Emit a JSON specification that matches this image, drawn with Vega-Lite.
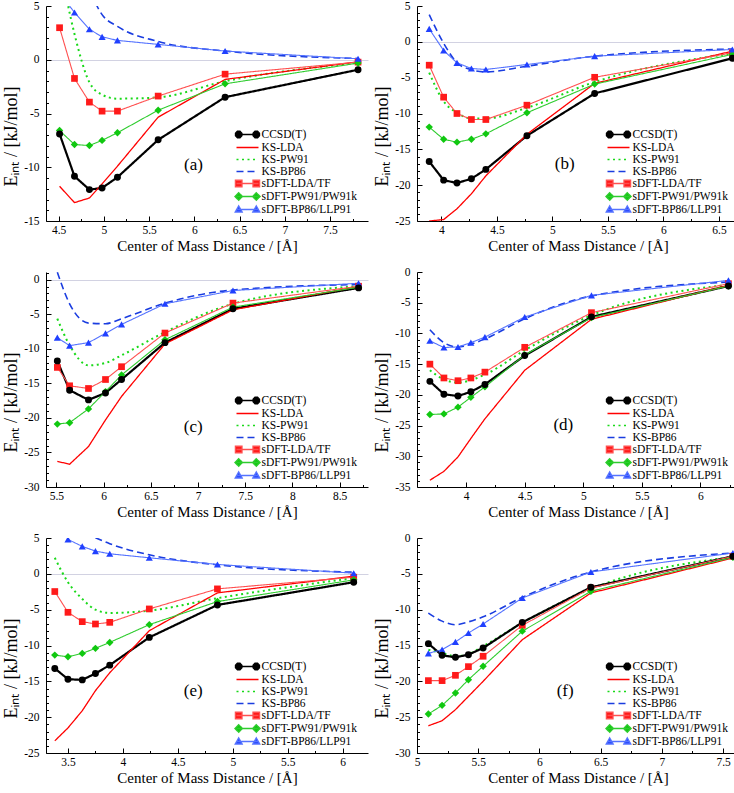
{
"$schema":"https://vega.github.io/schema/vega-lite/v6.json",
"padding":{"left":2,"top":0,"right":0,"bottom":0},
"background":"white",
"datasets":{
"labels":[
{"panel":"a","x":5.99,"y":-9.75,"label":"(a)"},
{"panel":"b","x":5.11,"y":-17.1,"label":"(b)"},
{"panel":"c","x":6.95,"y":-21.3,"label":"(c)"},
{"panel":"d","x":4.83,"y":-24.96,"label":"(d)"},
{"panel":"e","x":4.64,"y":-16.3,"label":"(e)"},
{"panel":"f","x":6.21,"y":-21.4,"label":"(f)"}
],
"pts":[
{"panel":"a","series":"CCSD(T)","x":4.51,"y":-6.9},{"panel":"a","series":"CCSD(T)","x":4.675,"y":-10.84},{"panel":"a","series":"CCSD(T)","x":4.84,"y":-12.08},{"panel":"a","series":"CCSD(T)","x":4.98,"y":-11.93},{"panel":"a","series":"CCSD(T)","x":5.15,"y":-10.93},{"panel":"a","series":"CCSD(T)","x":5.6,"y":-7.45},{"panel":"a","series":"CCSD(T)","x":6.34,"y":-3.48},{"panel":"a","series":"CCSD(T)","x":7.81,"y":-0.93},
{"panel":"a","series":"KS-LDA","x":4.51,"y":-11.77},{"panel":"a","series":"KS-LDA","x":4.675,"y":-13.29},{"panel":"a","series":"KS-LDA","x":4.84,"y":-12.86},{"panel":"a","series":"KS-LDA","x":4.98,"y":-11.55},{"panel":"a","series":"KS-LDA","x":5.15,"y":-9.9},{"panel":"a","series":"KS-LDA","x":5.6,"y":-5.34},{"panel":"a","series":"KS-LDA","x":6.34,"y":-1.83},{"panel":"a","series":"KS-LDA","x":7.81,"y":-0.19},
{"panel":"a","series":"KS-PW91","x":4.51,"y":9},{"panel":"a","series":"KS-PW91","x":4.675,"y":2.4},{"panel":"a","series":"KS-PW91","x":4.84,"y":-2.1},{"panel":"a","series":"KS-PW91","x":4.98,"y":-3.25},{"panel":"a","series":"KS-PW91","x":5.15,"y":-3.62},{"panel":"a","series":"KS-PW91","x":5.6,"y":-3.5},{"panel":"a","series":"KS-PW91","x":6.34,"y":-2.0},{"panel":"a","series":"KS-PW91","x":7.81,"y":-0.28},
{"panel":"a","series":"KS-BP86","x":4.51,"y":16},{"panel":"a","series":"KS-BP86","x":4.675,"y":10},{"panel":"a","series":"KS-BP86","x":4.84,"y":6.5},{"panel":"a","series":"KS-BP86","x":4.98,"y":4.2},{"panel":"a","series":"KS-BP86","x":5.15,"y":3.1},{"panel":"a","series":"KS-BP86","x":5.6,"y":1.7},{"panel":"a","series":"KS-BP86","x":6.34,"y":0.81},{"panel":"a","series":"KS-BP86","x":7.81,"y":0.12},
{"panel":"a","series":"sDFT-LDA/TF","x":4.51,"y":2.98},{"panel":"a","series":"sDFT-LDA/TF","x":4.675,"y":-1.74},{"panel":"a","series":"sDFT-LDA/TF","x":4.84,"y":-3.94},{"panel":"a","series":"sDFT-LDA/TF","x":4.98,"y":-4.78},{"panel":"a","series":"sDFT-LDA/TF","x":5.15,"y":-4.78},{"panel":"a","series":"sDFT-LDA/TF","x":5.6,"y":-3.38},{"panel":"a","series":"sDFT-LDA/TF","x":6.34,"y":-1.34},{"panel":"a","series":"sDFT-LDA/TF","x":7.81,"y":-0.22},
{"panel":"a","series":"sDFT-PW91/PW91k","x":4.51,"y":-6.58},{"panel":"a","series":"sDFT-PW91/PW91k","x":4.675,"y":-7.89},{"panel":"a","series":"sDFT-PW91/PW91k","x":4.84,"y":-7.98},{"panel":"a","series":"sDFT-PW91/PW91k","x":4.98,"y":-7.5},{"panel":"a","series":"sDFT-PW91/PW91k","x":5.15,"y":-6.79},{"panel":"a","series":"sDFT-PW91/PW91k","x":5.6,"y":-4.69},{"panel":"a","series":"sDFT-PW91/PW91k","x":6.34,"y":-2.24},{"panel":"a","series":"sDFT-PW91/PW91k","x":7.81,"y":-0.31},
{"panel":"a","series":"sDFT-BP86/LLP91","x":4.51,"y":6.2},{"panel":"a","series":"sDFT-BP86/LLP91","x":4.675,"y":4.4},{"panel":"a","series":"sDFT-BP86/LLP91","x":4.84,"y":2.84},{"panel":"a","series":"sDFT-BP86/LLP91","x":4.98,"y":2.13},{"panel":"a","series":"sDFT-BP86/LLP91","x":5.15,"y":1.8},{"panel":"a","series":"sDFT-BP86/LLP91","x":5.6,"y":1.43},{"panel":"a","series":"sDFT-BP86/LLP91","x":6.34,"y":0.81},{"panel":"a","series":"sDFT-BP86/LLP91","x":7.81,"y":0.09},

{"panel":"b","series":"CCSD(T)","x":3.89,"y":-16.7},{"panel":"b","series":"CCSD(T)","x":4.02,"y":-19.3},{"panel":"b","series":"CCSD(T)","x":4.14,"y":-19.7},{"panel":"b","series":"CCSD(T)","x":4.27,"y":-19.1},{"panel":"b","series":"CCSD(T)","x":4.4,"y":-17.8},{"panel":"b","series":"CCSD(T)","x":4.77,"y":-13.1},{"panel":"b","series":"CCSD(T)","x":5.38,"y":-7.2},{"panel":"b","series":"CCSD(T)","x":6.62,"y":-2.3},
{"panel":"b","series":"KS-LDA","x":3.89,"y":-25.0},{"panel":"b","series":"KS-LDA","x":4.02,"y":-24.8},{"panel":"b","series":"KS-LDA","x":4.14,"y":-23.3},{"panel":"b","series":"KS-LDA","x":4.27,"y":-21.2},{"panel":"b","series":"KS-LDA","x":4.4,"y":-18.7},{"panel":"b","series":"KS-LDA","x":4.77,"y":-12.9},{"panel":"b","series":"KS-LDA","x":5.38,"y":-5.8},{"panel":"b","series":"KS-LDA","x":6.62,"y":-1.3},
{"panel":"b","series":"KS-PW91","x":3.89,"y":-4.3},{"panel":"b","series":"KS-PW91","x":4.02,"y":-8.3},{"panel":"b","series":"KS-PW91","x":4.14,"y":-9.9},{"panel":"b","series":"KS-PW91","x":4.27,"y":-10.7},{"panel":"b","series":"KS-PW91","x":4.4,"y":-10.7},{"panel":"b","series":"KS-PW91","x":4.77,"y":-9.2},{"panel":"b","series":"KS-PW91","x":5.38,"y":-5.6},{"panel":"b","series":"KS-PW91","x":6.62,"y":-1.6},
{"panel":"b","series":"KS-BP86","x":3.89,"y":3.8},{"panel":"b","series":"KS-BP86","x":4.02,"y":-0.2},{"panel":"b","series":"KS-BP86","x":4.14,"y":-2.9},{"panel":"b","series":"KS-BP86","x":4.27,"y":-3.9},{"panel":"b","series":"KS-BP86","x":4.4,"y":-4.2},{"panel":"b","series":"KS-BP86","x":4.77,"y":-3.4},{"panel":"b","series":"KS-BP86","x":5.38,"y":-2.0},{"panel":"b","series":"KS-BP86","x":6.62,"y":-1.0},
{"panel":"b","series":"sDFT-LDA/TF","x":3.89,"y":-3.26},{"panel":"b","series":"sDFT-LDA/TF","x":4.02,"y":-7.72},{"panel":"b","series":"sDFT-LDA/TF","x":4.14,"y":-10.0},{"panel":"b","series":"sDFT-LDA/TF","x":4.27,"y":-10.84},{"panel":"b","series":"sDFT-LDA/TF","x":4.4,"y":-10.84},{"panel":"b","series":"sDFT-LDA/TF","x":4.77,"y":-8.84},{"panel":"b","series":"sDFT-LDA/TF","x":5.38,"y":-4.95},{"panel":"b","series":"sDFT-LDA/TF","x":6.62,"y":-1.53},
{"panel":"b","series":"sDFT-PW91/PW91k","x":3.89,"y":-11.9},{"panel":"b","series":"sDFT-PW91/PW91k","x":4.02,"y":-13.6},{"panel":"b","series":"sDFT-PW91/PW91k","x":4.14,"y":-14.0},{"panel":"b","series":"sDFT-PW91/PW91k","x":4.27,"y":-13.6},{"panel":"b","series":"sDFT-PW91/PW91k","x":4.4,"y":-12.84},{"panel":"b","series":"sDFT-PW91/PW91k","x":4.77,"y":-9.9},{"panel":"b","series":"sDFT-PW91/PW91k","x":5.38,"y":-5.9},{"panel":"b","series":"sDFT-PW91/PW91k","x":6.62,"y":-1.75},
{"panel":"b","series":"sDFT-BP86/LLP91","x":3.89,"y":1.81},{"panel":"b","series":"sDFT-BP86/LLP91","x":4.02,"y":-1.21},{"panel":"b","series":"sDFT-BP86/LLP91","x":4.14,"y":-2.93},{"panel":"b","series":"sDFT-BP86/LLP91","x":4.27,"y":-3.72},{"panel":"b","series":"sDFT-BP86/LLP91","x":4.4,"y":-3.86},{"panel":"b","series":"sDFT-BP86/LLP91","x":4.77,"y":-3.16},{"panel":"b","series":"sDFT-BP86/LLP91","x":5.38,"y":-2.0},{"panel":"b","series":"sDFT-BP86/LLP91","x":6.62,"y":-1.07},

{"panel":"c","series":"CCSD(T)","x":5.51,"y":-11.76},{"panel":"c","series":"CCSD(T)","x":5.64,"y":-16.0},{"panel":"c","series":"CCSD(T)","x":5.84,"y":-17.4},{"panel":"c","series":"CCSD(T)","x":6.02,"y":-16.4},{"panel":"c","series":"CCSD(T)","x":6.19,"y":-14.45},{"panel":"c","series":"CCSD(T)","x":6.65,"y":-9.12},{"panel":"c","series":"CCSD(T)","x":7.37,"y":-4.22},{"panel":"c","series":"CCSD(T)","x":8.7,"y":-1.2},
{"panel":"c","series":"KS-LDA","x":5.51,"y":-26.3},{"panel":"c","series":"KS-LDA","x":5.64,"y":-26.7},{"panel":"c","series":"KS-LDA","x":5.84,"y":-24.15},{"panel":"c","series":"KS-LDA","x":6.02,"y":-20.3},{"panel":"c","series":"KS-LDA","x":6.19,"y":-16.9},{"panel":"c","series":"KS-LDA","x":6.65,"y":-9.3},{"panel":"c","series":"KS-LDA","x":7.37,"y":-4.37},{"panel":"c","series":"KS-LDA","x":8.7,"y":-1.0},
{"panel":"c","series":"KS-PW91","x":5.51,"y":-5.66},{"panel":"c","series":"KS-PW91","x":5.64,"y":-9.5},{"panel":"c","series":"KS-PW91","x":5.84,"y":-12.4},{"panel":"c","series":"KS-PW91","x":6.02,"y":-12.05},{"panel":"c","series":"KS-PW91","x":6.19,"y":-10.95},{"panel":"c","series":"KS-PW91","x":6.65,"y":-7.6},{"panel":"c","series":"KS-PW91","x":7.37,"y":-3.5},{"panel":"c","series":"KS-PW91","x":8.7,"y":-0.96},
{"panel":"c","series":"KS-BP86","x":5.51,"y":1.06},{"panel":"c","series":"KS-BP86","x":5.64,"y":-3.5},{"panel":"c","series":"KS-BP86","x":5.84,"y":-6.29},{"panel":"c","series":"KS-BP86","x":6.02,"y":-6.38},{"panel":"c","series":"KS-BP86","x":6.19,"y":-5.66},{"panel":"c","series":"KS-BP86","x":6.65,"y":-3.41},{"panel":"c","series":"KS-BP86","x":7.37,"y":-1.5},{"panel":"c","series":"KS-BP86","x":8.7,"y":-0.7},
{"panel":"c","series":"sDFT-LDA/TF","x":5.51,"y":-12.7},{"panel":"c","series":"sDFT-LDA/TF","x":5.64,"y":-15.36},{"panel":"c","series":"sDFT-LDA/TF","x":5.84,"y":-15.75},{"panel":"c","series":"sDFT-LDA/TF","x":6.02,"y":-14.45},{"panel":"c","series":"sDFT-LDA/TF","x":6.19,"y":-12.6},{"panel":"c","series":"sDFT-LDA/TF","x":6.65,"y":-7.73},{"panel":"c","series":"sDFT-LDA/TF","x":7.37,"y":-3.4},{"panel":"c","series":"sDFT-LDA/TF","x":8.7,"y":-0.96},
{"panel":"c","series":"sDFT-PW91/PW91k","x":5.51,"y":-20.9},{"panel":"c","series":"sDFT-PW91/PW91k","x":5.64,"y":-20.7},{"panel":"c","series":"sDFT-PW91/PW91k","x":5.84,"y":-18.7},{"panel":"c","series":"sDFT-PW91/PW91k","x":6.02,"y":-16.2},{"panel":"c","series":"sDFT-PW91/PW91k","x":6.19,"y":-13.8},{"panel":"c","series":"sDFT-PW91/PW91k","x":6.65,"y":-8.7},{"panel":"c","series":"sDFT-PW91/PW91k","x":7.37,"y":-3.98},{"panel":"c","series":"sDFT-PW91/PW91k","x":8.7,"y":-1.1},
{"panel":"c","series":"sDFT-BP86/LLP91","x":5.51,"y":-8.4},{"panel":"c","series":"sDFT-BP86/LLP91","x":5.64,"y":-9.55},{"panel":"c","series":"sDFT-BP86/LLP91","x":5.84,"y":-9.12},{"panel":"c","series":"sDFT-BP86/LLP91","x":6.02,"y":-7.78},{"panel":"c","series":"sDFT-BP86/LLP91","x":6.19,"y":-6.48},{"panel":"c","series":"sDFT-BP86/LLP91","x":6.65,"y":-3.5},{"panel":"c","series":"sDFT-BP86/LLP91","x":7.37,"y":-1.58},{"panel":"c","series":"sDFT-BP86/LLP91","x":8.7,"y":-0.53},

{"panel":"d","series":"CCSD(T)","x":3.69,"y":-17.8},{"panel":"d","series":"CCSD(T)","x":3.81,"y":-19.9},{"panel":"d","series":"CCSD(T)","x":3.93,"y":-20.2},{"panel":"d","series":"CCSD(T)","x":4.04,"y":-19.5},{"panel":"d","series":"CCSD(T)","x":4.16,"y":-18.3},{"panel":"d","series":"CCSD(T)","x":4.5,"y":-13.6},{"panel":"d","series":"CCSD(T)","x":5.07,"y":-7.3},{"panel":"d","series":"CCSD(T)","x":6.24,"y":-2.28},
{"panel":"d","series":"KS-LDA","x":3.69,"y":-33.9},{"panel":"d","series":"KS-LDA","x":3.81,"y":-32.45},{"panel":"d","series":"KS-LDA","x":3.93,"y":-30.1},{"panel":"d","series":"KS-LDA","x":4.04,"y":-27.1},{"panel":"d","series":"KS-LDA","x":4.16,"y":-23.9},{"panel":"d","series":"KS-LDA","x":4.5,"y":-16.0},{"panel":"d","series":"KS-LDA","x":5.07,"y":-7.7},{"panel":"d","series":"KS-LDA","x":6.24,"y":-2.17},
{"panel":"d","series":"KS-PW91","x":3.69,"y":-16.0},{"panel":"d","series":"KS-PW91","x":3.81,"y":-17.5},{"panel":"d","series":"KS-PW91","x":3.93,"y":-18.0},{"panel":"d","series":"KS-PW91","x":4.04,"y":-17.6},{"panel":"d","series":"KS-PW91","x":4.16,"y":-16.7},{"panel":"d","series":"KS-PW91","x":4.5,"y":-12.75},{"panel":"d","series":"KS-PW91","x":5.07,"y":-7.05},{"panel":"d","series":"KS-PW91","x":6.24,"y":-2.06},
{"panel":"d","series":"KS-BP86","x":3.69,"y":-9.4},{"panel":"d","series":"KS-BP86","x":3.81,"y":-11.5},{"panel":"d","series":"KS-BP86","x":3.93,"y":-12.2},{"panel":"d","series":"KS-BP86","x":4.04,"y":-11.75},{"panel":"d","series":"KS-BP86","x":4.16,"y":-10.9},{"panel":"d","series":"KS-BP86","x":4.5,"y":-7.6},{"panel":"d","series":"KS-BP86","x":5.07,"y":-3.9},{"panel":"d","series":"KS-BP86","x":6.24,"y":-1.63},
{"panel":"d","series":"sDFT-LDA/TF","x":3.69,"y":-15.0},{"panel":"d","series":"sDFT-LDA/TF","x":3.81,"y":-17.25},{"panel":"d","series":"sDFT-LDA/TF","x":3.93,"y":-17.7},{"panel":"d","series":"sDFT-LDA/TF","x":4.04,"y":-17.25},{"panel":"d","series":"sDFT-LDA/TF","x":4.16,"y":-16.3},{"panel":"d","series":"sDFT-LDA/TF","x":4.5,"y":-12.26},{"panel":"d","series":"sDFT-LDA/TF","x":5.07,"y":-6.62},{"panel":"d","series":"sDFT-LDA/TF","x":6.24,"y":-1.9},
{"panel":"d","series":"sDFT-PW91/PW91k","x":3.69,"y":-23.2},{"panel":"d","series":"sDFT-PW91/PW91k","x":3.81,"y":-23.1},{"panel":"d","series":"sDFT-PW91/PW91k","x":3.93,"y":-22.0},{"panel":"d","series":"sDFT-PW91/PW91k","x":4.04,"y":-20.4},{"panel":"d","series":"sDFT-PW91/PW91k","x":4.16,"y":-18.7},{"panel":"d","series":"sDFT-PW91/PW91k","x":4.5,"y":-13.5},{"panel":"d","series":"sDFT-PW91/PW91k","x":5.07,"y":-7.43},{"panel":"d","series":"sDFT-PW91/PW91k","x":6.24,"y":-2.28},
{"panel":"d","series":"sDFT-BP86/LLP91","x":3.69,"y":-11.2},{"panel":"d","series":"sDFT-BP86/LLP91","x":3.81,"y":-12.3},{"panel":"d","series":"sDFT-BP86/LLP91","x":3.93,"y":-12.2},{"panel":"d","series":"sDFT-BP86/LLP91","x":4.04,"y":-11.5},{"panel":"d","series":"sDFT-BP86/LLP91","x":4.16,"y":-10.6},{"panel":"d","series":"sDFT-BP86/LLP91","x":4.5,"y":-7.33},{"panel":"d","series":"sDFT-BP86/LLP91","x":5.07,"y":-3.8},{"panel":"d","series":"sDFT-BP86/LLP91","x":6.24,"y":-1.36},

{"panel":"e","series":"CCSD(T)","x":3.38,"y":-13.2},{"panel":"e","series":"CCSD(T)","x":3.5,"y":-14.7},{"panel":"e","series":"CCSD(T)","x":3.63,"y":-14.8},{"panel":"e","series":"CCSD(T)","x":3.75,"y":-13.9},{"panel":"e","series":"CCSD(T)","x":3.88,"y":-12.74},{"panel":"e","series":"CCSD(T)","x":4.24,"y":-8.87},{"panel":"e","series":"CCSD(T)","x":4.86,"y":-4.34},{"panel":"e","series":"CCSD(T)","x":6.1,"y":-1.17},
{"panel":"e","series":"KS-LDA","x":3.38,"y":-23.3},{"panel":"e","series":"KS-LDA","x":3.5,"y":-21.5},{"panel":"e","series":"KS-LDA","x":3.63,"y":-19.1},{"panel":"e","series":"KS-LDA","x":3.75,"y":-16.3},{"panel":"e","series":"KS-LDA","x":3.88,"y":-13.8},{"panel":"e","series":"KS-LDA","x":4.24,"y":-7.93},{"panel":"e","series":"KS-LDA","x":4.86,"y":-2.66},{"panel":"e","series":"KS-LDA","x":6.1,"y":-0.33},
{"panel":"e","series":"KS-PW91","x":3.38,"y":2.24},{"panel":"e","series":"KS-PW91","x":3.5,"y":-1.17},{"panel":"e","series":"KS-PW91","x":3.63,"y":-3.5},{"panel":"e","series":"KS-PW91","x":3.75,"y":-5.0},{"panel":"e","series":"KS-PW91","x":3.88,"y":-5.46},{"panel":"e","series":"KS-PW91","x":4.24,"y":-5.13},{"panel":"e","series":"KS-PW91","x":4.86,"y":-3.4},{"panel":"e","series":"KS-PW91","x":6.1,"y":-0.6},
{"panel":"e","series":"KS-BP86","x":3.75,"y":5.04},{"panel":"e","series":"KS-BP86","x":3.88,"y":4.2},{"panel":"e","series":"KS-BP86","x":4.24,"y":2.66},{"panel":"e","series":"KS-BP86","x":4.86,"y":1.26},{"panel":"e","series":"KS-BP86","x":6.1,"y":0.23},
{"panel":"e","series":"sDFT-LDA/TF","x":3.38,"y":-2.47},{"panel":"e","series":"sDFT-LDA/TF","x":3.5,"y":-5.37},{"panel":"e","series":"sDFT-LDA/TF","x":3.63,"y":-6.67},{"panel":"e","series":"sDFT-LDA/TF","x":3.75,"y":-7.0},{"panel":"e","series":"sDFT-LDA/TF","x":3.88,"y":-6.77},{"panel":"e","series":"sDFT-LDA/TF","x":4.24,"y":-4.9},{"panel":"e","series":"sDFT-LDA/TF","x":4.86,"y":-2.1},{"panel":"e","series":"sDFT-LDA/TF","x":6.1,"y":-0.47},
{"panel":"e","series":"sDFT-PW91/PW91k","x":3.38,"y":-11.34},{"panel":"e","series":"sDFT-PW91/PW91k","x":3.5,"y":-11.57},{"panel":"e","series":"sDFT-PW91/PW91k","x":3.63,"y":-11.1},{"panel":"e","series":"sDFT-PW91/PW91k","x":3.75,"y":-10.4},{"panel":"e","series":"sDFT-PW91/PW91k","x":3.88,"y":-9.57},{"panel":"e","series":"sDFT-PW91/PW91k","x":4.24,"y":-7.09},{"panel":"e","series":"sDFT-PW91/PW91k","x":4.86,"y":-3.87},{"panel":"e","series":"sDFT-PW91/PW91k","x":6.1,"y":-0.84},
{"panel":"e","series":"sDFT-BP86/LLP91","x":3.5,"y":4.8},{"panel":"e","series":"sDFT-BP86/LLP91","x":3.63,"y":3.83},{"panel":"e","series":"sDFT-BP86/LLP91","x":3.75,"y":3.17},{"panel":"e","series":"sDFT-BP86/LLP91","x":3.88,"y":2.8},{"panel":"e","series":"sDFT-BP86/LLP91","x":4.24,"y":2.24},{"panel":"e","series":"sDFT-BP86/LLP91","x":4.86,"y":1.31},{"panel":"e","series":"sDFT-BP86/LLP91","x":6.1,"y":0.09},

{"panel":"f","series":"CCSD(T)","x":5.093,"y":-14.74},{"panel":"f","series":"CCSD(T)","x":5.205,"y":-16.37},{"panel":"f","series":"CCSD(T)","x":5.314,"y":-16.65},{"panel":"f","series":"CCSD(T)","x":5.42,"y":-16.28},{"panel":"f","series":"CCSD(T)","x":5.54,"y":-15.35},{"panel":"f","series":"CCSD(T)","x":5.86,"y":-11.77},{"panel":"f","series":"CCSD(T)","x":6.42,"y":-6.88},{"panel":"f","series":"CCSD(T)","x":7.58,"y":-2.56},
{"panel":"f","series":"KS-LDA","x":5.093,"y":-26.2},{"panel":"f","series":"KS-LDA","x":5.205,"y":-25.5},{"panel":"f","series":"KS-LDA","x":5.314,"y":-23.95},{"panel":"f","series":"KS-LDA","x":5.42,"y":-22.1},{"panel":"f","series":"KS-LDA","x":5.54,"y":-20.0},{"panel":"f","series":"KS-LDA","x":5.86,"y":-14.19},{"panel":"f","series":"KS-LDA","x":6.42,"y":-7.67},{"panel":"f","series":"KS-LDA","x":7.58,"y":-2.79},
{"panel":"f","series":"KS-PW91","x":5.093,"y":-15.6},{"panel":"f","series":"KS-PW91","x":5.205,"y":-16.05},{"panel":"f","series":"KS-PW91","x":5.314,"y":-16.5},{"panel":"f","series":"KS-PW91","x":5.42,"y":-16.2},{"panel":"f","series":"KS-PW91","x":5.54,"y":-15.1},{"panel":"f","series":"KS-PW91","x":5.86,"y":-11.86},{"panel":"f","series":"KS-PW91","x":6.42,"y":-7.1},{"panel":"f","series":"KS-PW91","x":7.58,"y":-2.65},
{"panel":"f","series":"KS-BP86","x":5.093,"y":-10.47},{"panel":"f","series":"KS-BP86","x":5.205,"y":-11.6},{"panel":"f","series":"KS-BP86","x":5.314,"y":-12.1},{"panel":"f","series":"KS-BP86","x":5.42,"y":-11.7},{"panel":"f","series":"KS-BP86","x":5.54,"y":-11.0},{"panel":"f","series":"KS-BP86","x":5.86,"y":-8.28},{"panel":"f","series":"KS-BP86","x":6.42,"y":-4.74},{"panel":"f","series":"KS-BP86","x":7.58,"y":-2.09},
{"panel":"f","series":"sDFT-LDA/TF","x":5.093,"y":-19.9},{"panel":"f","series":"sDFT-LDA/TF","x":5.205,"y":-19.9},{"panel":"f","series":"sDFT-LDA/TF","x":5.314,"y":-19.16},{"panel":"f","series":"sDFT-LDA/TF","x":5.42,"y":-17.95},{"panel":"f","series":"sDFT-LDA/TF","x":5.54,"y":-16.5},{"panel":"f","series":"sDFT-LDA/TF","x":5.86,"y":-12.19},{"panel":"f","series":"sDFT-LDA/TF","x":6.42,"y":-6.98},{"panel":"f","series":"sDFT-LDA/TF","x":7.58,"y":-2.56},
{"panel":"f","series":"sDFT-PW91/PW91k","x":5.093,"y":-24.56},{"panel":"f","series":"sDFT-PW91/PW91k","x":5.205,"y":-23.35},{"panel":"f","series":"sDFT-PW91/PW91k","x":5.314,"y":-21.63},{"panel":"f","series":"sDFT-PW91/PW91k","x":5.42,"y":-19.77},{"panel":"f","series":"sDFT-PW91/PW91k","x":5.54,"y":-17.9},{"panel":"f","series":"sDFT-PW91/PW91k","x":5.86,"y":-13.0},{"panel":"f","series":"sDFT-PW91/PW91k","x":6.42,"y":-7.44},{"panel":"f","series":"sDFT-PW91/PW91k","x":7.58,"y":-2.7},
{"panel":"f","series":"sDFT-BP86/LLP91","x":5.093,"y":-16.1},{"panel":"f","series":"sDFT-BP86/LLP91","x":5.205,"y":-15.58},{"panel":"f","series":"sDFT-BP86/LLP91","x":5.314,"y":-14.5},{"panel":"f","series":"sDFT-BP86/LLP91","x":5.42,"y":-13.26},{"panel":"f","series":"sDFT-BP86/LLP91","x":5.54,"y":-12.0},{"panel":"f","series":"sDFT-BP86/LLP91","x":5.86,"y":-8.37},{"panel":"f","series":"sDFT-BP86/LLP91","x":6.42,"y":-4.74},{"panel":"f","series":"sDFT-BP86/LLP91","x":7.58,"y":-2.09}
]
},
"columns":2,
"spacing":{"row":12,"column":5},
"resolve":{"scale":{"fill":"independent","stroke":"independent","shape":"independent","strokeDash":"independent"},"legend":{"fill":"independent","stroke":"independent","shape":"independent","strokeDash":"independent"}},
"concat":[
{"width":322,"height":215,"resolve":{"axis":{"x":"independent","y":"independent"}},
"layer":[
{"encoding":{"x":{"field":"x","type":"quantitative","title":"Center of Mass Distance / [Å]","scale":{"domain":[4.36,7.92],"nice":false,"zero":false},"axis":{"orient":"bottom","values":[4.5,5,5.5,6,6.5,7,7.5],"labelExpr":"''+datum.value"}},
"y":{"field":"y","type":"quantitative","title":"Eᵢₙₜ / [kJ/mol]","scale":{"domain":[-15,5],"nice":false,"zero":false},"axis":{"orient":"left","values":[-15,-10,-5,0,5],"labelExpr":"''+datum.value","grid":true,"gridOpacity":{"condition":{"test":"datum.value===0","value":1},"value":0}}}},
"layer":[
{"data":{"name":"pts"},"transform":[{"filter":"datum.panel==='a' && (datum.series==='KS-PW91' || datum.series==='KS-BP86')"}],"mark":{"type":"line","clip":true,"interpolate":"monotone"},"encoding":{"stroke":{"field":"series","type":"nominal","scale":{"domain":["CCSD(T)","KS-LDA","KS-PW91","KS-BP86","sDFT-LDA/TF","sDFT-PW91/PW91k","sDFT-BP86/LLP91"],"range":["#000000","#ff0000","#19d919","#1a3de0","#ff5050","#2ecc2e","#5573ff"]}},"strokeDash":{"field":"series","type":"nominal","scale":{"domain":["CCSD(T)","KS-LDA","KS-PW91","KS-BP86","sDFT-LDA/TF","sDFT-PW91/PW91k","sDFT-BP86/LLP91"],"range":[[1,0],[1,0],[2,3.5],[7,4],[1,0],[1,0],[1,0]]}},"strokeWidth":{"condition":{"test":"datum.series==='KS-PW91'","value":2},"value":1.6}}},
{"data":{"name":"pts"},"transform":[{"filter":"datum.panel==='a' && datum.series!=='KS-PW91' && datum.series!=='KS-BP86'"}],"mark":{"type":"line","clip":true},"encoding":{"stroke":{"field":"series","type":"nominal"},"strokeDash":{"field":"series","type":"nominal"},"strokeWidth":{"condition":[{"test":"datum.series==='CCSD(T)'","value":2.2},{"test":"datum.series==='KS-LDA'","value":1.3}],"value":1.1}}},
{"data":{"name":"pts"},"transform":[{"filter":"datum.panel==='a' && datum.series==='sDFT-LDA/TF'"}],"mark":{"type":"point","shape":"square","filled":true,"opacity":1,"color":"#ff1a1a","size":45,"clip":true}},
{"data":{"name":"pts"},"transform":[{"filter":"datum.panel==='a' && datum.series==='sDFT-PW91/PW91k'"}],"mark":{"type":"point","shape":"diamond","filled":true,"opacity":1,"color":"#10c810","size":55,"clip":true}},
{"data":{"name":"pts"},"transform":[{"filter":"datum.panel==='a' && datum.series==='sDFT-BP86/LLP91'"}],"mark":{"type":"point","shape":"triangle-up","filled":true,"opacity":1,"color":"#2040ff","size":50,"clip":true}},
{"data":{"name":"pts"},"transform":[{"filter":"datum.panel==='a' && datum.series==='CCSD(T)'"}],"mark":{"type":"point","shape":"circle","filled":true,"opacity":1,"color":"#000000","size":48,"clip":true}},
{"data":{"name":"labels"},"transform":[{"filter":"datum.panel==='a'"}],"mark":{"type":"text","font":"Liberation Serif","fontSize":17,"color":"#000000"},"encoding":{"text":{"field":"label"}}}
]},
{"data":{"name":"pts"},"transform":[{"filter":"false"}],"mark":{"type":"point","filled":true,"opacity":1},
"encoding":{
"x":{"field":"x","type":"quantitative","scale":{"domain":[4.36,7.92],"nice":false,"zero":false},"axis":{"orient":"bottom","values":[4.75,5.25,5.75,6.25,6.75,7.25,7.75],"labels":false,"domain":false,"title":null,"tickSize":-2.5}},
"y":{"field":"y","type":"quantitative","scale":{"domain":[-15,5],"nice":false,"zero":false},"axis":{"orient":"left","values":[-14,-13,-12,-11,-9,-8,-7,-6,-4,-3,-2,-1,1,2,3,4],"labels":false,"domain":false,"title":null,"tickSize":-2.5}},
"fill":{"field":"series","type":"nominal","scale":{"domain":["CCSD(T)","KS-LDA","KS-PW91","KS-BP86","sDFT-LDA/TF","sDFT-PW91/PW91k","sDFT-BP86/LLP91"],"range":["#000000","#ff0000","#19d919","#1a3de0","#ff1a1a","#10c810","#2040ff"]},"legend":{"title":null,"orient":"none","legendX":195,"legendY":122}},
"stroke":{"field":"series","type":"nominal","legend":{"title":null,"orient":"none","legendX":195,"legendY":122}},
"shape":{"field":"series","type":"nominal","scale":{"domain":["CCSD(T)","KS-LDA","KS-PW91","KS-BP86","sDFT-LDA/TF","sDFT-PW91/PW91k","sDFT-BP86/LLP91"],"range":["M-2,0L2,0M-1.012,0.243L-1.357,0.588L-1.843,0.588L-2.188,0.243L-2.188,-0.243L-1.843,-0.588L-1.357,-0.588L-1.012,-0.243ZM2.188,0.243L1.843,0.588L1.357,0.588L1.012,0.243L1.012,-0.243L1.357,-0.588L1.843,-0.588L2.188,-0.243Z","M-2,0L2,0","M-2,0L2,0","M-2,0L2,0","M-2,0L2,0M-2.2,-0.6L-1.0,-0.6L-1.0,0.6L-2.2,0.6ZM1.0,-0.6L2.2,-0.6L2.2,0.6L1.0,0.6Z","M-2,0L2,0M-1.6,-0.69L-0.91,0L-1.6,0.69L-2.29,0ZM1.6,-0.69L2.29,0L1.6,0.69L0.91,0Z","M-2,0L2,0M-1.6,-0.65L-0.97,0.45L-2.23,0.45ZM1.6,-0.65L2.23,0.45L0.97,0.45Z"]},"legend":{"title":null,"orient":"none","legendX":195,"legendY":122}},
"strokeDash":{"field":"series","type":"nominal","legend":{"title":null,"orient":"none","legendX":195,"legendY":122}}
}}
]},

{"width":322,"height":215,"resolve":{"axis":{"x":"independent","y":"independent"}},
"layer":[
{"encoding":{"x":{"field":"x","type":"quantitative","title":"Center of Mass Distance / [Å]","scale":{"domain":[3.78,6.68],"nice":false,"zero":false},"axis":{"orient":"bottom","values":[4,4.5,5,5.5,6,6.5],"labelExpr":"''+datum.value"}},
"y":{"field":"y","type":"quantitative","title":"Eᵢₙₜ / [kJ/mol]","scale":{"domain":[-25,5],"nice":false,"zero":false},"axis":{"orient":"left","values":[-25,-20,-15,-10,-5,0,5],"labelExpr":"''+datum.value","grid":true,"gridOpacity":{"condition":{"test":"datum.value===0","value":1},"value":0}}}},
"layer":[
{"data":{"name":"pts"},"transform":[{"filter":"datum.panel==='b' && (datum.series==='KS-PW91' || datum.series==='KS-BP86')"}],"mark":{"type":"line","clip":true,"interpolate":"monotone"},"encoding":{"stroke":{"field":"series","type":"nominal","scale":{"domain":["CCSD(T)","KS-LDA","KS-PW91","KS-BP86","sDFT-LDA/TF","sDFT-PW91/PW91k","sDFT-BP86/LLP91"],"range":["#000000","#ff0000","#19d919","#1a3de0","#ff5050","#2ecc2e","#5573ff"]}},"strokeDash":{"field":"series","type":"nominal","scale":{"domain":["CCSD(T)","KS-LDA","KS-PW91","KS-BP86","sDFT-LDA/TF","sDFT-PW91/PW91k","sDFT-BP86/LLP91"],"range":[[1,0],[1,0],[2,3.5],[7,4],[1,0],[1,0],[1,0]]}},"strokeWidth":{"condition":{"test":"datum.series==='KS-PW91'","value":2},"value":1.6}}},
{"data":{"name":"pts"},"transform":[{"filter":"datum.panel==='b' && datum.series!=='KS-PW91' && datum.series!=='KS-BP86'"}],"mark":{"type":"line","clip":true},"encoding":{"stroke":{"field":"series","type":"nominal"},"strokeDash":{"field":"series","type":"nominal"},"strokeWidth":{"condition":[{"test":"datum.series==='CCSD(T)'","value":2.2},{"test":"datum.series==='KS-LDA'","value":1.3}],"value":1.1}}},
{"data":{"name":"pts"},"transform":[{"filter":"datum.panel==='b' && datum.series==='sDFT-LDA/TF'"}],"mark":{"type":"point","shape":"square","filled":true,"opacity":1,"color":"#ff1a1a","size":45,"clip":true}},
{"data":{"name":"pts"},"transform":[{"filter":"datum.panel==='b' && datum.series==='sDFT-PW91/PW91k'"}],"mark":{"type":"point","shape":"diamond","filled":true,"opacity":1,"color":"#10c810","size":55,"clip":true}},
{"data":{"name":"pts"},"transform":[{"filter":"datum.panel==='b' && datum.series==='sDFT-BP86/LLP91'"}],"mark":{"type":"point","shape":"triangle-up","filled":true,"opacity":1,"color":"#2040ff","size":50,"clip":true}},
{"data":{"name":"pts"},"transform":[{"filter":"datum.panel==='b' && datum.series==='CCSD(T)'"}],"mark":{"type":"point","shape":"circle","filled":true,"opacity":1,"color":"#000000","size":48,"clip":true}},
{"data":{"name":"labels"},"transform":[{"filter":"datum.panel==='b'"}],"mark":{"type":"text","font":"Liberation Serif","fontSize":17,"color":"#000000"},"encoding":{"text":{"field":"label"}}}
]},
{"data":{"name":"pts"},"transform":[{"filter":"false"}],"mark":{"type":"point","filled":true,"opacity":1},
"encoding":{
"x":{"field":"x","type":"quantitative","scale":{"domain":[3.78,6.68],"nice":false,"zero":false},"axis":{"orient":"bottom","values":[4.25,4.75,5.25,5.75,6.25],"labels":false,"domain":false,"title":null,"tickSize":-2.5}},
"y":{"field":"y","type":"quantitative","scale":{"domain":[-25,5],"nice":false,"zero":false},"axis":{"orient":"left","values":[-24,-23,-22,-21,-19,-18,-17,-16,-14,-13,-12,-11,-9,-8,-7,-6,-4,-3,-2,-1,1,2,3,4],"labels":false,"domain":false,"title":null,"tickSize":-2.5}},
"fill":{"field":"series","type":"nominal","scale":{"domain":["CCSD(T)","KS-LDA","KS-PW91","KS-BP86","sDFT-LDA/TF","sDFT-PW91/PW91k","sDFT-BP86/LLP91"],"range":["#000000","#ff0000","#19d919","#1a3de0","#ff1a1a","#10c810","#2040ff"]},"legend":{"title":null,"orient":"none","legendX":195,"legendY":122}},
"stroke":{"field":"series","type":"nominal","legend":{"title":null,"orient":"none","legendX":195,"legendY":122}},
"shape":{"field":"series","type":"nominal","scale":{"domain":["CCSD(T)","KS-LDA","KS-PW91","KS-BP86","sDFT-LDA/TF","sDFT-PW91/PW91k","sDFT-BP86/LLP91"],"range":["M-2,0L2,0M-1.012,0.243L-1.357,0.588L-1.843,0.588L-2.188,0.243L-2.188,-0.243L-1.843,-0.588L-1.357,-0.588L-1.012,-0.243ZM2.188,0.243L1.843,0.588L1.357,0.588L1.012,0.243L1.012,-0.243L1.357,-0.588L1.843,-0.588L2.188,-0.243Z","M-2,0L2,0","M-2,0L2,0","M-2,0L2,0","M-2,0L2,0M-2.2,-0.6L-1.0,-0.6L-1.0,0.6L-2.2,0.6ZM1.0,-0.6L2.2,-0.6L2.2,0.6L1.0,0.6Z","M-2,0L2,0M-1.6,-0.69L-0.91,0L-1.6,0.69L-2.29,0ZM1.6,-0.69L2.29,0L1.6,0.69L0.91,0Z","M-2,0L2,0M-1.6,-0.65L-0.97,0.45L-2.23,0.45ZM1.6,-0.65L2.23,0.45L0.97,0.45Z"]},"legend":{"title":null,"orient":"none","legendX":195,"legendY":122}},
"strokeDash":{"field":"series","type":"nominal","legend":{"title":null,"orient":"none","legendX":195,"legendY":122}}
}}
]},

{"width":322,"height":215,"resolve":{"axis":{"x":"independent","y":"independent"}},
"layer":[
{"encoding":{"x":{"field":"x","type":"quantitative","title":"Center of Mass Distance / [Å]","scale":{"domain":[5.39,8.8],"nice":false,"zero":false},"axis":{"orient":"bottom","values":[5.5,6,6.5,7,7.5,8,8.5],"labelExpr":"''+datum.value"}},
"y":{"field":"y","type":"quantitative","title":"Eᵢₙₜ / [kJ/mol]","scale":{"domain":[-30,1.1],"nice":false,"zero":false},"axis":{"orient":"left","values":[-30,-25,-20,-15,-10,-5,0],"labelExpr":"''+datum.value","grid":true,"gridOpacity":{"condition":{"test":"datum.value===0","value":1},"value":0}}}},
"layer":[
{"data":{"name":"pts"},"transform":[{"filter":"datum.panel==='c' && (datum.series==='KS-PW91' || datum.series==='KS-BP86')"}],"mark":{"type":"line","clip":true,"interpolate":"monotone"},"encoding":{"stroke":{"field":"series","type":"nominal","scale":{"domain":["CCSD(T)","KS-LDA","KS-PW91","KS-BP86","sDFT-LDA/TF","sDFT-PW91/PW91k","sDFT-BP86/LLP91"],"range":["#000000","#ff0000","#19d919","#1a3de0","#ff5050","#2ecc2e","#5573ff"]}},"strokeDash":{"field":"series","type":"nominal","scale":{"domain":["CCSD(T)","KS-LDA","KS-PW91","KS-BP86","sDFT-LDA/TF","sDFT-PW91/PW91k","sDFT-BP86/LLP91"],"range":[[1,0],[1,0],[2,3.5],[7,4],[1,0],[1,0],[1,0]]}},"strokeWidth":{"condition":{"test":"datum.series==='KS-PW91'","value":2},"value":1.6}}},
{"data":{"name":"pts"},"transform":[{"filter":"datum.panel==='c' && datum.series!=='KS-PW91' && datum.series!=='KS-BP86'"}],"mark":{"type":"line","clip":true},"encoding":{"stroke":{"field":"series","type":"nominal"},"strokeDash":{"field":"series","type":"nominal"},"strokeWidth":{"condition":[{"test":"datum.series==='CCSD(T)'","value":2.2},{"test":"datum.series==='KS-LDA'","value":1.3}],"value":1.1}}},
{"data":{"name":"pts"},"transform":[{"filter":"datum.panel==='c' && datum.series==='sDFT-LDA/TF'"}],"mark":{"type":"point","shape":"square","filled":true,"opacity":1,"color":"#ff1a1a","size":45,"clip":true}},
{"data":{"name":"pts"},"transform":[{"filter":"datum.panel==='c' && datum.series==='sDFT-PW91/PW91k'"}],"mark":{"type":"point","shape":"diamond","filled":true,"opacity":1,"color":"#10c810","size":55,"clip":true}},
{"data":{"name":"pts"},"transform":[{"filter":"datum.panel==='c' && datum.series==='sDFT-BP86/LLP91'"}],"mark":{"type":"point","shape":"triangle-up","filled":true,"opacity":1,"color":"#2040ff","size":50,"clip":true}},
{"data":{"name":"pts"},"transform":[{"filter":"datum.panel==='c' && datum.series==='CCSD(T)'"}],"mark":{"type":"point","shape":"circle","filled":true,"opacity":1,"color":"#000000","size":48,"clip":true}},
{"data":{"name":"labels"},"transform":[{"filter":"datum.panel==='c'"}],"mark":{"type":"text","font":"Liberation Serif","fontSize":17,"color":"#000000"},"encoding":{"text":{"field":"label"}}}
]},
{"data":{"name":"pts"},"transform":[{"filter":"false"}],"mark":{"type":"point","filled":true,"opacity":1},
"encoding":{
"x":{"field":"x","type":"quantitative","scale":{"domain":[5.39,8.8],"nice":false,"zero":false},"axis":{"orient":"bottom","values":[5.75,6.25,6.75,7.25,7.75,8.25,8.75],"labels":false,"domain":false,"title":null,"tickSize":-2.5}},
"y":{"field":"y","type":"quantitative","scale":{"domain":[-30,1.1],"nice":false,"zero":false},"axis":{"orient":"left","values":[-29,-28,-27,-26,-24,-23,-22,-21,-19,-18,-17,-16,-14,-13,-12,-11,-9,-8,-7,-6,-4,-3,-2,-1,1],"labels":false,"domain":false,"title":null,"tickSize":-2.5}},
"fill":{"field":"series","type":"nominal","scale":{"domain":["CCSD(T)","KS-LDA","KS-PW91","KS-BP86","sDFT-LDA/TF","sDFT-PW91/PW91k","sDFT-BP86/LLP91"],"range":["#000000","#ff0000","#19d919","#1a3de0","#ff1a1a","#10c810","#2040ff"]},"legend":{"title":null,"orient":"none","legendX":195,"legendY":122}},
"stroke":{"field":"series","type":"nominal","legend":{"title":null,"orient":"none","legendX":195,"legendY":122}},
"shape":{"field":"series","type":"nominal","scale":{"domain":["CCSD(T)","KS-LDA","KS-PW91","KS-BP86","sDFT-LDA/TF","sDFT-PW91/PW91k","sDFT-BP86/LLP91"],"range":["M-2,0L2,0M-1.012,0.243L-1.357,0.588L-1.843,0.588L-2.188,0.243L-2.188,-0.243L-1.843,-0.588L-1.357,-0.588L-1.012,-0.243ZM2.188,0.243L1.843,0.588L1.357,0.588L1.012,0.243L1.012,-0.243L1.357,-0.588L1.843,-0.588L2.188,-0.243Z","M-2,0L2,0","M-2,0L2,0","M-2,0L2,0","M-2,0L2,0M-2.2,-0.6L-1.0,-0.6L-1.0,0.6L-2.2,0.6ZM1.0,-0.6L2.2,-0.6L2.2,0.6L1.0,0.6Z","M-2,0L2,0M-1.6,-0.69L-0.91,0L-1.6,0.69L-2.29,0ZM1.6,-0.69L2.29,0L1.6,0.69L0.91,0Z","M-2,0L2,0M-1.6,-0.65L-0.97,0.45L-2.23,0.45ZM1.6,-0.65L2.23,0.45L0.97,0.45Z"]},"legend":{"title":null,"orient":"none","legendX":195,"legendY":122}},
"strokeDash":{"field":"series","type":"nominal","legend":{"title":null,"orient":"none","legendX":195,"legendY":122}}
}}
]},

{"width":322,"height":215,"resolve":{"axis":{"x":"independent","y":"independent"}},
"layer":[
{"encoding":{"x":{"field":"x","type":"quantitative","title":"Center of Mass Distance / [Å]","scale":{"domain":[3.58,6.33],"nice":false,"zero":false},"axis":{"orient":"bottom","values":[4,4.5,5,5.5,6],"labelExpr":"''+datum.value"}},
"y":{"field":"y","type":"quantitative","title":"Eᵢₙₜ / [kJ/mol]","scale":{"domain":[-35,0],"nice":false,"zero":false},"axis":{"orient":"left","values":[-35,-30,-25,-20,-15,-10,-5,0],"labelExpr":"''+datum.value"}}},
"layer":[
{"data":{"name":"pts"},"transform":[{"filter":"datum.panel==='d' && (datum.series==='KS-PW91' || datum.series==='KS-BP86')"}],"mark":{"type":"line","clip":true,"interpolate":"monotone"},"encoding":{"stroke":{"field":"series","type":"nominal","scale":{"domain":["CCSD(T)","KS-LDA","KS-PW91","KS-BP86","sDFT-LDA/TF","sDFT-PW91/PW91k","sDFT-BP86/LLP91"],"range":["#000000","#ff0000","#19d919","#1a3de0","#ff5050","#2ecc2e","#5573ff"]}},"strokeDash":{"field":"series","type":"nominal","scale":{"domain":["CCSD(T)","KS-LDA","KS-PW91","KS-BP86","sDFT-LDA/TF","sDFT-PW91/PW91k","sDFT-BP86/LLP91"],"range":[[1,0],[1,0],[2,3.5],[7,4],[1,0],[1,0],[1,0]]}},"strokeWidth":{"condition":{"test":"datum.series==='KS-PW91'","value":2},"value":1.6}}},
{"data":{"name":"pts"},"transform":[{"filter":"datum.panel==='d' && datum.series!=='KS-PW91' && datum.series!=='KS-BP86'"}],"mark":{"type":"line","clip":true},"encoding":{"stroke":{"field":"series","type":"nominal"},"strokeDash":{"field":"series","type":"nominal"},"strokeWidth":{"condition":[{"test":"datum.series==='CCSD(T)'","value":2.2},{"test":"datum.series==='KS-LDA'","value":1.3}],"value":1.1}}},
{"data":{"name":"pts"},"transform":[{"filter":"datum.panel==='d' && datum.series==='sDFT-LDA/TF'"}],"mark":{"type":"point","shape":"square","filled":true,"opacity":1,"color":"#ff1a1a","size":45,"clip":true}},
{"data":{"name":"pts"},"transform":[{"filter":"datum.panel==='d' && datum.series==='sDFT-PW91/PW91k'"}],"mark":{"type":"point","shape":"diamond","filled":true,"opacity":1,"color":"#10c810","size":55,"clip":true}},
{"data":{"name":"pts"},"transform":[{"filter":"datum.panel==='d' && datum.series==='sDFT-BP86/LLP91'"}],"mark":{"type":"point","shape":"triangle-up","filled":true,"opacity":1,"color":"#2040ff","size":50,"clip":true}},
{"data":{"name":"pts"},"transform":[{"filter":"datum.panel==='d' && datum.series==='CCSD(T)'"}],"mark":{"type":"point","shape":"circle","filled":true,"opacity":1,"color":"#000000","size":48,"clip":true}},
{"data":{"name":"labels"},"transform":[{"filter":"datum.panel==='d'"}],"mark":{"type":"text","font":"Liberation Serif","fontSize":17,"color":"#000000"},"encoding":{"text":{"field":"label"}}}
]},
{"data":{"name":"pts"},"transform":[{"filter":"false"}],"mark":{"type":"point","filled":true,"opacity":1},
"encoding":{
"x":{"field":"x","type":"quantitative","scale":{"domain":[3.58,6.33],"nice":false,"zero":false},"axis":{"orient":"bottom","values":[3.75,4.25,4.75,5.25,5.75,6.25],"labels":false,"domain":false,"title":null,"tickSize":-2.5}},
"y":{"field":"y","type":"quantitative","scale":{"domain":[-35,0],"nice":false,"zero":false},"axis":{"orient":"left","values":[-34,-33,-32,-31,-29,-28,-27,-26,-24,-23,-22,-21,-19,-18,-17,-16,-14,-13,-12,-11,-9,-8,-7,-6,-4,-3,-2,-1],"labels":false,"domain":false,"title":null,"tickSize":-2.5}},
"fill":{"field":"series","type":"nominal","scale":{"domain":["CCSD(T)","KS-LDA","KS-PW91","KS-BP86","sDFT-LDA/TF","sDFT-PW91/PW91k","sDFT-BP86/LLP91"],"range":["#000000","#ff0000","#19d919","#1a3de0","#ff1a1a","#10c810","#2040ff"]},"legend":{"title":null,"orient":"none","legendX":195,"legendY":122}},
"stroke":{"field":"series","type":"nominal","legend":{"title":null,"orient":"none","legendX":195,"legendY":122}},
"shape":{"field":"series","type":"nominal","scale":{"domain":["CCSD(T)","KS-LDA","KS-PW91","KS-BP86","sDFT-LDA/TF","sDFT-PW91/PW91k","sDFT-BP86/LLP91"],"range":["M-2,0L2,0M-1.012,0.243L-1.357,0.588L-1.843,0.588L-2.188,0.243L-2.188,-0.243L-1.843,-0.588L-1.357,-0.588L-1.012,-0.243ZM2.188,0.243L1.843,0.588L1.357,0.588L1.012,0.243L1.012,-0.243L1.357,-0.588L1.843,-0.588L2.188,-0.243Z","M-2,0L2,0","M-2,0L2,0","M-2,0L2,0","M-2,0L2,0M-2.2,-0.6L-1.0,-0.6L-1.0,0.6L-2.2,0.6ZM1.0,-0.6L2.2,-0.6L2.2,0.6L1.0,0.6Z","M-2,0L2,0M-1.6,-0.69L-0.91,0L-1.6,0.69L-2.29,0ZM1.6,-0.69L2.29,0L1.6,0.69L0.91,0Z","M-2,0L2,0M-1.6,-0.65L-0.97,0.45L-2.23,0.45ZM1.6,-0.65L2.23,0.45L0.97,0.45Z"]},"legend":{"title":null,"orient":"none","legendX":195,"legendY":122}},
"strokeDash":{"field":"series","type":"nominal","legend":{"title":null,"orient":"none","legendX":195,"legendY":122}}
}}
]},

{"width":322,"height":215,"resolve":{"axis":{"x":"independent","y":"independent"}},
"layer":[
{"encoding":{"x":{"field":"x","type":"quantitative","title":"Center of Mass Distance / [Å]","scale":{"domain":[3.3,6.23],"nice":false,"zero":false},"axis":{"orient":"bottom","values":[3.5,4,4.5,5,5.5,6],"labelExpr":"''+datum.value"}},
"y":{"field":"y","type":"quantitative","title":"Eᵢₙₜ / [kJ/mol]","scale":{"domain":[-25,5],"nice":false,"zero":false},"axis":{"orient":"left","values":[-25,-20,-15,-10,-5,0,5],"labelExpr":"''+datum.value","grid":true,"gridOpacity":{"condition":{"test":"datum.value===0","value":1},"value":0}}}},
"layer":[
{"data":{"name":"pts"},"transform":[{"filter":"datum.panel==='e' && (datum.series==='KS-PW91' || datum.series==='KS-BP86')"}],"mark":{"type":"line","clip":true,"interpolate":"monotone"},"encoding":{"stroke":{"field":"series","type":"nominal","scale":{"domain":["CCSD(T)","KS-LDA","KS-PW91","KS-BP86","sDFT-LDA/TF","sDFT-PW91/PW91k","sDFT-BP86/LLP91"],"range":["#000000","#ff0000","#19d919","#1a3de0","#ff5050","#2ecc2e","#5573ff"]}},"strokeDash":{"field":"series","type":"nominal","scale":{"domain":["CCSD(T)","KS-LDA","KS-PW91","KS-BP86","sDFT-LDA/TF","sDFT-PW91/PW91k","sDFT-BP86/LLP91"],"range":[[1,0],[1,0],[2,3.5],[7,4],[1,0],[1,0],[1,0]]}},"strokeWidth":{"condition":{"test":"datum.series==='KS-PW91'","value":2},"value":1.6}}},
{"data":{"name":"pts"},"transform":[{"filter":"datum.panel==='e' && datum.series!=='KS-PW91' && datum.series!=='KS-BP86'"}],"mark":{"type":"line","clip":true},"encoding":{"stroke":{"field":"series","type":"nominal"},"strokeDash":{"field":"series","type":"nominal"},"strokeWidth":{"condition":[{"test":"datum.series==='CCSD(T)'","value":2.2},{"test":"datum.series==='KS-LDA'","value":1.3}],"value":1.1}}},
{"data":{"name":"pts"},"transform":[{"filter":"datum.panel==='e' && datum.series==='sDFT-LDA/TF'"}],"mark":{"type":"point","shape":"square","filled":true,"opacity":1,"color":"#ff1a1a","size":45,"clip":true}},
{"data":{"name":"pts"},"transform":[{"filter":"datum.panel==='e' && datum.series==='sDFT-PW91/PW91k'"}],"mark":{"type":"point","shape":"diamond","filled":true,"opacity":1,"color":"#10c810","size":55,"clip":true}},
{"data":{"name":"pts"},"transform":[{"filter":"datum.panel==='e' && datum.series==='sDFT-BP86/LLP91'"}],"mark":{"type":"point","shape":"triangle-up","filled":true,"opacity":1,"color":"#2040ff","size":50,"clip":true}},
{"data":{"name":"pts"},"transform":[{"filter":"datum.panel==='e' && datum.series==='CCSD(T)'"}],"mark":{"type":"point","shape":"circle","filled":true,"opacity":1,"color":"#000000","size":48,"clip":true}},
{"data":{"name":"labels"},"transform":[{"filter":"datum.panel==='e'"}],"mark":{"type":"text","font":"Liberation Serif","fontSize":17,"color":"#000000"},"encoding":{"text":{"field":"label"}}}
]},
{"data":{"name":"pts"},"transform":[{"filter":"false"}],"mark":{"type":"point","filled":true,"opacity":1},
"encoding":{
"x":{"field":"x","type":"quantitative","scale":{"domain":[3.3,6.23],"nice":false,"zero":false},"axis":{"orient":"bottom","values":[3.75,4.25,4.75,5.25,5.75],"labels":false,"domain":false,"title":null,"tickSize":-2.5}},
"y":{"field":"y","type":"quantitative","scale":{"domain":[-25,5],"nice":false,"zero":false},"axis":{"orient":"left","values":[-24,-23,-22,-21,-19,-18,-17,-16,-14,-13,-12,-11,-9,-8,-7,-6,-4,-3,-2,-1,1,2,3,4],"labels":false,"domain":false,"title":null,"tickSize":-2.5}},
"fill":{"field":"series","type":"nominal","scale":{"domain":["CCSD(T)","KS-LDA","KS-PW91","KS-BP86","sDFT-LDA/TF","sDFT-PW91/PW91k","sDFT-BP86/LLP91"],"range":["#000000","#ff0000","#19d919","#1a3de0","#ff1a1a","#10c810","#2040ff"]},"legend":{"title":null,"orient":"none","legendX":195,"legendY":122}},
"stroke":{"field":"series","type":"nominal","legend":{"title":null,"orient":"none","legendX":195,"legendY":122}},
"shape":{"field":"series","type":"nominal","scale":{"domain":["CCSD(T)","KS-LDA","KS-PW91","KS-BP86","sDFT-LDA/TF","sDFT-PW91/PW91k","sDFT-BP86/LLP91"],"range":["M-2,0L2,0M-1.012,0.243L-1.357,0.588L-1.843,0.588L-2.188,0.243L-2.188,-0.243L-1.843,-0.588L-1.357,-0.588L-1.012,-0.243ZM2.188,0.243L1.843,0.588L1.357,0.588L1.012,0.243L1.012,-0.243L1.357,-0.588L1.843,-0.588L2.188,-0.243Z","M-2,0L2,0","M-2,0L2,0","M-2,0L2,0","M-2,0L2,0M-2.2,-0.6L-1.0,-0.6L-1.0,0.6L-2.2,0.6ZM1.0,-0.6L2.2,-0.6L2.2,0.6L1.0,0.6Z","M-2,0L2,0M-1.6,-0.69L-0.91,0L-1.6,0.69L-2.29,0ZM1.6,-0.69L2.29,0L1.6,0.69L0.91,0Z","M-2,0L2,0M-1.6,-0.65L-0.97,0.45L-2.23,0.45ZM1.6,-0.65L2.23,0.45L0.97,0.45Z"]},"legend":{"title":null,"orient":"none","legendX":195,"legendY":122}},
"strokeDash":{"field":"series","type":"nominal","legend":{"title":null,"orient":"none","legendX":195,"legendY":122}}
}}
]},

{"width":322,"height":215,"resolve":{"axis":{"x":"independent","y":"independent"}},
"layer":[
{"encoding":{"x":{"field":"x","type":"quantitative","title":"Center of Mass Distance / [Å]","scale":{"domain":[5.0,7.63],"nice":false,"zero":false},"axis":{"orient":"bottom","values":[5,5.5,6,6.5,7,7.5],"labelExpr":"''+datum.value"}},
"y":{"field":"y","type":"quantitative","title":"Eᵢₙₜ / [kJ/mol]","scale":{"domain":[-30,0],"nice":false,"zero":false},"axis":{"orient":"left","values":[-30,-25,-20,-15,-10,-5,0],"labelExpr":"''+datum.value"}}},
"layer":[
{"data":{"name":"pts"},"transform":[{"filter":"datum.panel==='f' && (datum.series==='KS-PW91' || datum.series==='KS-BP86')"}],"mark":{"type":"line","clip":true,"interpolate":"monotone"},"encoding":{"stroke":{"field":"series","type":"nominal","scale":{"domain":["CCSD(T)","KS-LDA","KS-PW91","KS-BP86","sDFT-LDA/TF","sDFT-PW91/PW91k","sDFT-BP86/LLP91"],"range":["#000000","#ff0000","#19d919","#1a3de0","#ff5050","#2ecc2e","#5573ff"]}},"strokeDash":{"field":"series","type":"nominal","scale":{"domain":["CCSD(T)","KS-LDA","KS-PW91","KS-BP86","sDFT-LDA/TF","sDFT-PW91/PW91k","sDFT-BP86/LLP91"],"range":[[1,0],[1,0],[2,3.5],[7,4],[1,0],[1,0],[1,0]]}},"strokeWidth":{"condition":{"test":"datum.series==='KS-PW91'","value":2},"value":1.6}}},
{"data":{"name":"pts"},"transform":[{"filter":"datum.panel==='f' && datum.series!=='KS-PW91' && datum.series!=='KS-BP86'"}],"mark":{"type":"line","clip":true},"encoding":{"stroke":{"field":"series","type":"nominal"},"strokeDash":{"field":"series","type":"nominal"},"strokeWidth":{"condition":[{"test":"datum.series==='CCSD(T)'","value":2.2},{"test":"datum.series==='KS-LDA'","value":1.3}],"value":1.1}}},
{"data":{"name":"pts"},"transform":[{"filter":"datum.panel==='f' && datum.series==='sDFT-LDA/TF'"}],"mark":{"type":"point","shape":"square","filled":true,"opacity":1,"color":"#ff1a1a","size":45,"clip":true}},
{"data":{"name":"pts"},"transform":[{"filter":"datum.panel==='f' && datum.series==='sDFT-PW91/PW91k'"}],"mark":{"type":"point","shape":"diamond","filled":true,"opacity":1,"color":"#10c810","size":55,"clip":true}},
{"data":{"name":"pts"},"transform":[{"filter":"datum.panel==='f' && datum.series==='sDFT-BP86/LLP91'"}],"mark":{"type":"point","shape":"triangle-up","filled":true,"opacity":1,"color":"#2040ff","size":50,"clip":true}},
{"data":{"name":"pts"},"transform":[{"filter":"datum.panel==='f' && datum.series==='CCSD(T)'"}],"mark":{"type":"point","shape":"circle","filled":true,"opacity":1,"color":"#000000","size":48,"clip":true}},
{"data":{"name":"labels"},"transform":[{"filter":"datum.panel==='f'"}],"mark":{"type":"text","font":"Liberation Serif","fontSize":17,"color":"#000000"},"encoding":{"text":{"field":"label"}}}
]},
{"data":{"name":"pts"},"transform":[{"filter":"false"}],"mark":{"type":"point","filled":true,"opacity":1},
"encoding":{
"x":{"field":"x","type":"quantitative","scale":{"domain":[5.0,7.63],"nice":false,"zero":false},"axis":{"orient":"bottom","values":[5.25,5.75,6.25,6.75,7.25],"labels":false,"domain":false,"title":null,"tickSize":-2.5}},
"y":{"field":"y","type":"quantitative","scale":{"domain":[-30,0],"nice":false,"zero":false},"axis":{"orient":"left","values":[-29,-28,-27,-26,-24,-23,-22,-21,-19,-18,-17,-16,-14,-13,-12,-11,-9,-8,-7,-6,-4,-3,-2,-1],"labels":false,"domain":false,"title":null,"tickSize":-2.5}},
"fill":{"field":"series","type":"nominal","scale":{"domain":["CCSD(T)","KS-LDA","KS-PW91","KS-BP86","sDFT-LDA/TF","sDFT-PW91/PW91k","sDFT-BP86/LLP91"],"range":["#000000","#ff0000","#19d919","#1a3de0","#ff1a1a","#10c810","#2040ff"]},"legend":{"title":null,"orient":"none","legendX":195,"legendY":122}},
"stroke":{"field":"series","type":"nominal","legend":{"title":null,"orient":"none","legendX":195,"legendY":122}},
"shape":{"field":"series","type":"nominal","scale":{"domain":["CCSD(T)","KS-LDA","KS-PW91","KS-BP86","sDFT-LDA/TF","sDFT-PW91/PW91k","sDFT-BP86/LLP91"],"range":["M-2,0L2,0M-1.012,0.243L-1.357,0.588L-1.843,0.588L-2.188,0.243L-2.188,-0.243L-1.843,-0.588L-1.357,-0.588L-1.012,-0.243ZM2.188,0.243L1.843,0.588L1.357,0.588L1.012,0.243L1.012,-0.243L1.357,-0.588L1.843,-0.588L2.188,-0.243Z","M-2,0L2,0","M-2,0L2,0","M-2,0L2,0","M-2,0L2,0M-2.2,-0.6L-1.0,-0.6L-1.0,0.6L-2.2,0.6ZM1.0,-0.6L2.2,-0.6L2.2,0.6L1.0,0.6Z","M-2,0L2,0M-1.6,-0.69L-0.91,0L-1.6,0.69L-2.29,0ZM1.6,-0.69L2.29,0L1.6,0.69L0.91,0Z","M-2,0L2,0M-1.6,-0.65L-0.97,0.45L-2.23,0.45ZM1.6,-0.65L2.23,0.45L0.97,0.45Z"]},"legend":{"title":null,"orient":"none","legendX":195,"legendY":122}},
"strokeDash":{"field":"series","type":"nominal","legend":{"title":null,"orient":"none","legendX":195,"legendY":122}}
}}
]}
],
"config":{
"view":{"stroke":null},
"font":"Liberation Serif",
"axis":{"domainColor":"#000000","domainWidth":1,"tickColor":"#000000","tickWidth":1,"tickSize":-5,"labelFont":"Liberation Serif","labelFontSize":11.5,"labelColor":"#000000","labelOverlap":false,"labelFlush":false,"titleFont":"Liberation Serif","titleFontWeight":"normal","titleColor":"#000000","grid":false,"gridColor":"#d2d2e2","gridWidth":1},
"axisX":{"titleFontSize":15,"labelPadding":8,"titlePadding":3},
"axisY":{"titleFontSize":18,"labelPadding":12,"titlePadding":3,"titleY":130},
"legend":{"labelFont":"Liberation Serif","labelFontSize":11.5,"labelColor":"#000000","symbolSize":121,"symbolStrokeWidth":1.3,"rowPadding":0,"labelOffset":7.5,"padding":0}
}
}
